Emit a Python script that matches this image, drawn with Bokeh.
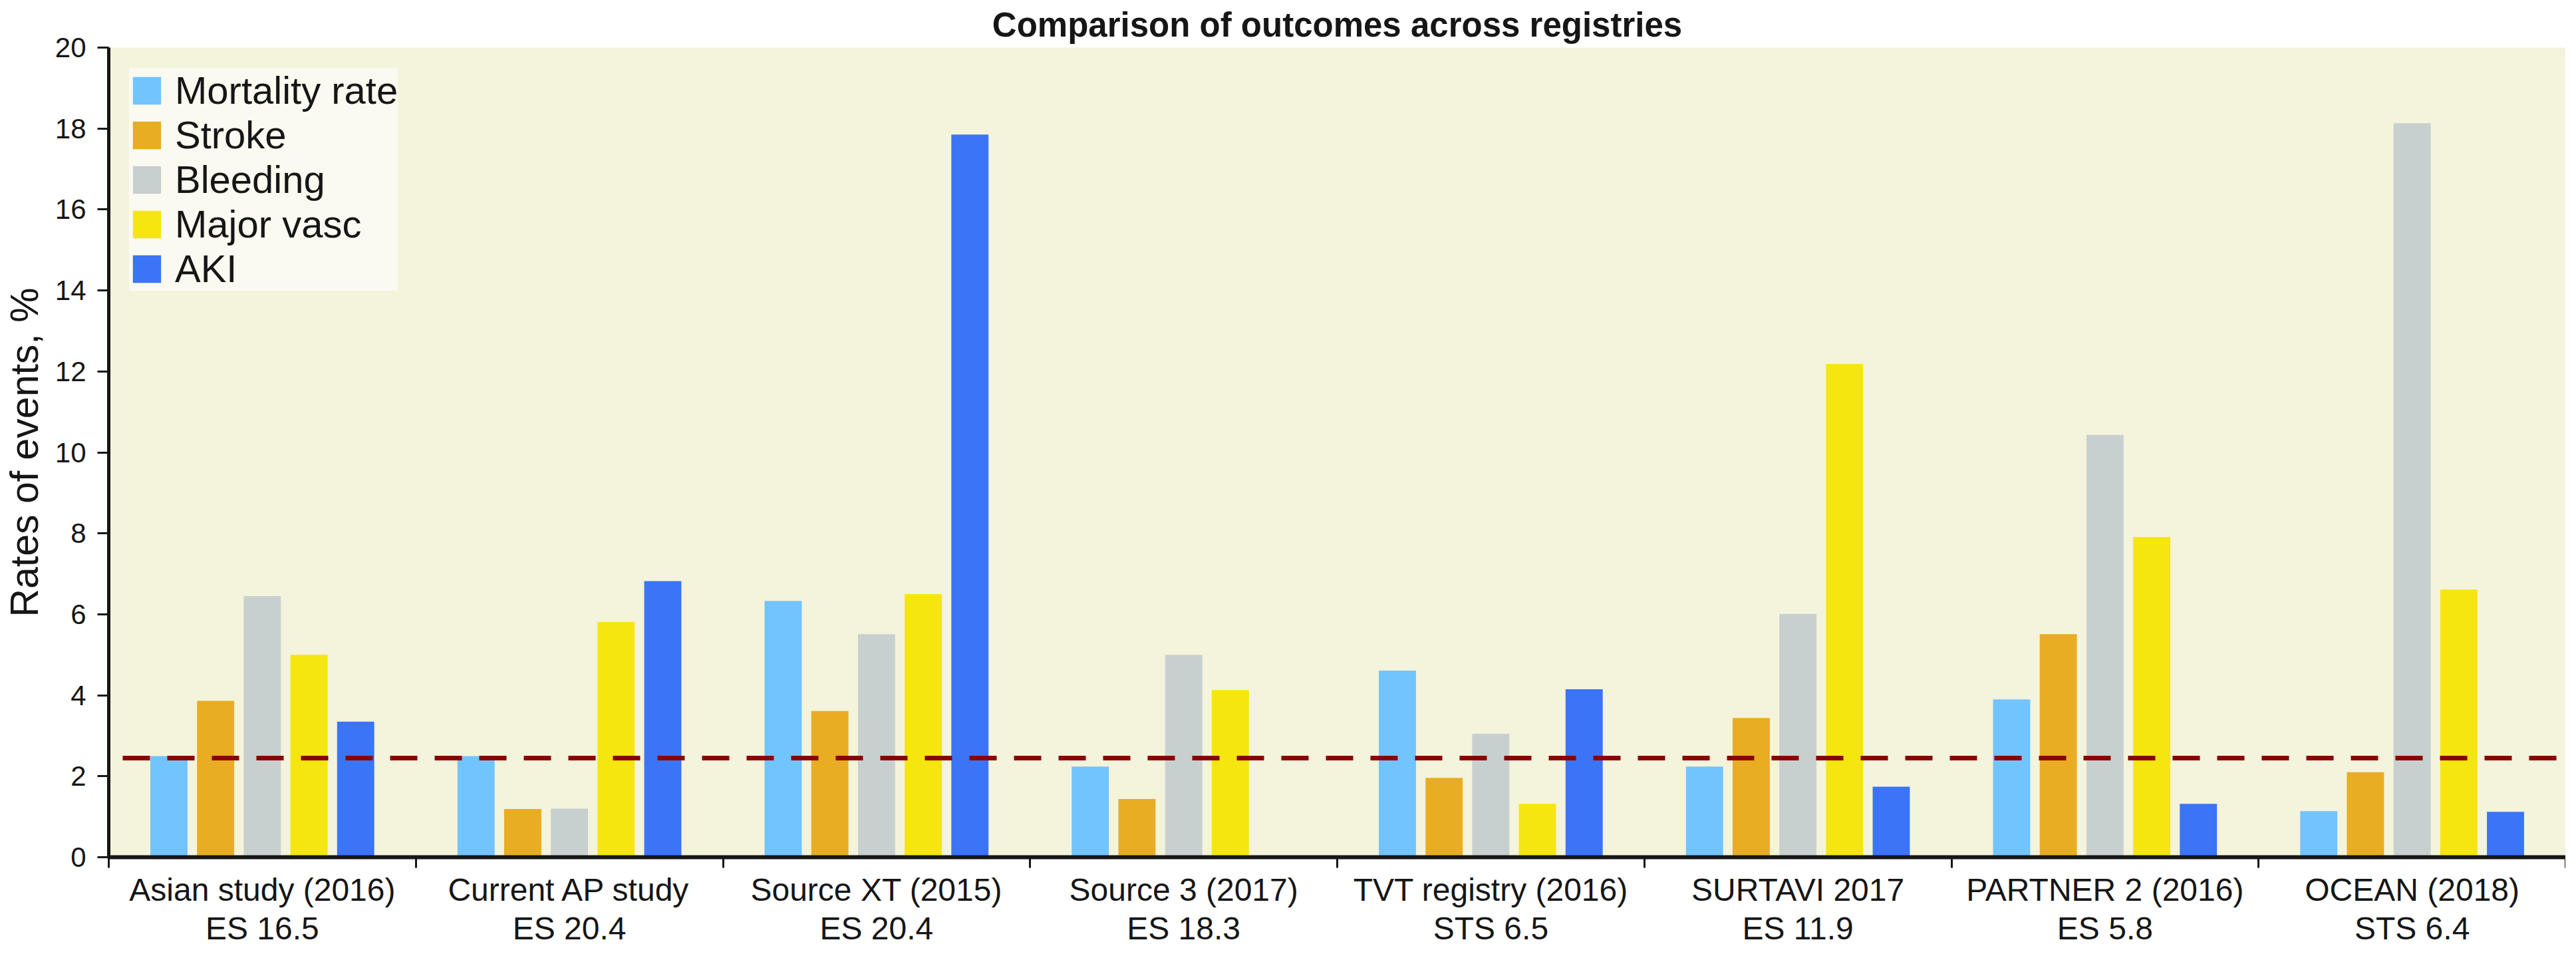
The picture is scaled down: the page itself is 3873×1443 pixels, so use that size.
from bokeh.plotting import figure
from bokeh.models import Range1d, FixedTicker, Legend, LegendItem, Span
from bokeh.embed import file_html
from bokeh.resources import INLINE

# ---------------- data ----------------
registries = ["Asian study (2016)", "Current AP study", "Source XT (2015)", "Source 3 (2017)",
              "TVT registry (2016)", "SURTAVI 2017", "PARTNER 2 (2016)", "OCEAN (2018)"]
risk_scores = ["ES 16.5", "ES 20.4", "ES 20.4", "ES 18.3", "STS 6.5", "ES 11.9", "ES 5.8", "STS 6.4"]
series_names = ["Mortality rate", "Stroke", "Bleeding", "Major vasc", "AKI"]
mortality = [2.5, 2.5, 6.33, 2.24, 4.61, 2.24, 3.9, 1.14]
stroke = [3.86, 1.19, 3.61, 1.44, 1.96, 3.44, 5.51, 2.1]
bleeding = [6.45, 1.2, 5.51, 5.0, 3.05, 6.01, 10.43, 18.13]
major_vasc = [5.0, 5.81, 6.5, 4.13, 1.32, 12.18, 7.91, 6.61]
aki = [3.35, 6.82, 17.85, 0.0, 4.15, 1.74, 1.32, 1.12]
reference_rate = 2.45
y_ticks = [0, 2, 4, 6, 8, 10, 12, 14, 16, 18, 20]
title_text = "Comparison of outcomes across registries"
y_label = "Rates of events, %"

series_values = [mortality, stroke, bleeding, major_vasc, aki]
colors = ["#72C4FE", "#E8AD22", "#C8D0CF", "#F5E60F", "#3B74F6"]

FONT = "Liberation Sans"
INK = "#161616"

n = len(registries)
p = figure(width=3857, height=1427, x_range=Range1d(0, n), y_range=Range1d(0, 20),
           title=title_text,
           output_backend="svg", toolbar_location=None,
           min_border_left=157, min_border_right=0, min_border_top=70, min_border_bottom=139)
p.background_fill_color = "#F4F3DC"
p.border_fill_color = "white"
p.outline_line_color = None
p.grid.visible = False

p.title.text_font = FONT
p.title.text_font_style = "bold"
p.title.text_font_size = "51px"
p.title.text_color = INK
p.title.align = "center"
p.title.offset = -52
p.title.standoff = 12

bar_w = 0.121
step = 0.152
items = []
for k, (name, vals, col) in enumerate(zip(series_names, series_values, colors)):
    xs = [i + 0.5 + (k - 2) * step for i in range(n)]
    r = p.vbar(x=xs, top=vals, bottom=0, width=bar_w, fill_color=col, line_color=None)
    items.append(LegendItem(label=name, renderers=[r]))

p.add_layout(Span(location=reference_rate, dimension="width", line_color="#8B0000",
                  line_width=7, line_dash="41 26", line_dash_offset=46))

legend = Legend(items=items, location="top_left")
legend.margin = 31
legend.padding = 10
legend.spacing = 0
legend.glyph_width = 53
legend.glyph_height = 52
legend.label_height = 52
legend.label_standoff = 16
legend.label_text_font = FONT
legend.label_text_font_size = "58px"
legend.label_text_line_height = 1.0
legend.label_text_color = INK
legend.background_fill_color = "#FBFAF1"
legend.background_fill_alpha = 1
legend.border_line_color = None
p.add_layout(legend)

# x axis: labels at category centres, tick marks at category boundaries (minor ticks)
xa = p.xaxis[0]
xa.ticker = FixedTicker(ticks=[i + 0.5 for i in range(n)], minor_ticks=list(range(n + 1)))
xa.major_label_overrides = {i + 0.5: f"{registries[i]}\n{risk_scores[i]}" for i in range(n)}
xa.major_tick_out = 0
xa.major_tick_in = 0
xa.minor_tick_out = 16
xa.minor_tick_in = 0
xa.minor_tick_line_width = 3
xa.minor_tick_line_color = INK
xa.axis_line_width = 6
xa.axis_line_color = INK
xa.major_label_text_font = FONT
xa.major_label_text_font_size = "48px"
xa.major_label_text_color = INK
xa.major_label_text_line_height = 1.1
xa.major_label_standoff = 6

ya = p.yaxis[0]
ya.ticker = FixedTicker(ticks=y_ticks, minor_ticks=[])
ya.axis_line_width = 5
ya.axis_line_color = INK
ya.major_tick_out = 17
ya.major_tick_in = 0
ya.major_tick_line_width = 3
ya.major_tick_line_color = INK
ya.major_label_text_font = FONT
ya.major_label_text_font_size = "42px"
ya.major_label_text_color = INK
ya.major_label_standoff = 17
ya.axis_label = y_label
ya.axis_label_text_font = FONT
ya.axis_label_text_font_style = "normal"
ya.axis_label_text_font_size = "59px"
ya.axis_label_text_color = INK
ya.axis_label_standoff = 10

open("out.html", "w").write(file_html(p, INLINE))
